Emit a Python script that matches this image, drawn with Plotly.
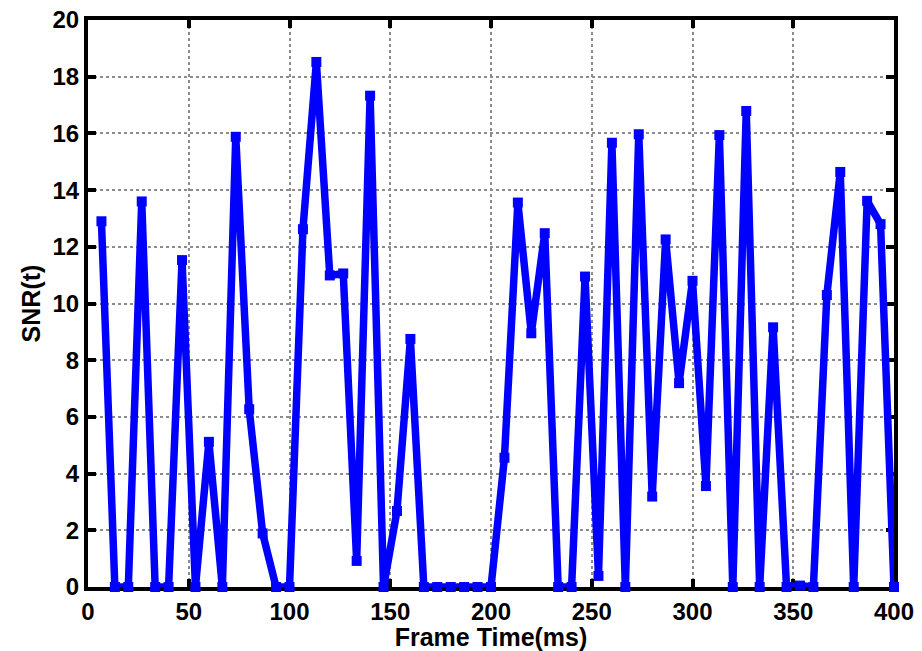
import plotly.graph_objects as go

# Frame times (ms) and the per-frame SNR values
frame_time_ms = [
    6.67, 13.33, 20.0, 26.67, 33.33, 40.0, 46.67, 53.33, 60.0, 66.67,
    73.33, 80.0, 86.67, 93.33, 100.0, 106.67, 113.33, 120.0, 126.67, 133.33,
    140.0, 146.67, 153.33, 160.0, 166.67, 173.33, 180.0, 186.67, 193.33, 200.0,
    206.67, 213.33, 220.0, 226.67, 233.33, 240.0, 246.67, 253.33, 260.0, 266.67,
    273.33, 280.0, 286.67, 293.33, 300.0, 306.67, 313.33, 320.0, 326.67, 333.33,
    340.0, 346.67, 353.33, 360.0, 366.67, 373.33, 380.0, 386.67, 393.33, 400.0,
]
snr_values = [
    12.9, 0, 0, 13.6, 0, 0, 11.53, 0, 5.12, 0,
    15.88, 6.27, 1.89, 0, 0, 12.62, 18.52, 10.99, 11.06, 0.92,
    17.33, 0, 2.68, 8.75, 0, 0, 0, 0, 0, 0,
    4.56, 13.56, 8.95, 12.48, 0, 0, 10.95, 0.39, 15.67, 0,
    15.97, 3.19, 12.26, 7.19, 10.8, 3.56, 15.94, 0, 16.79, 0,
    9.16, 0, 0.05, 0, 10.3, 14.64, 0, 13.62, 12.8, 0,
]

x_ticks = [0, 50, 100, 150, 200, 250, 300, 350, 400]
y_ticks = [0, 2, 4, 6, 8, 10, 12, 14, 16, 18, 20]

font_family = "Liberation Sans, Arial, Helvetica, sans-serif"

fig = go.Figure(
    go.Scatter(
        x=frame_time_ms,
        y=snr_values,
        mode="lines+markers",
        line=dict(color="#0000FF", width=7.5),
        marker=dict(color="#0000FF", size=10, symbol="square"),
        cliponaxis=False,
    )
)

axis_common = dict(
    showline=True,
    linecolor="black",
    linewidth=4,
    mirror="ticks",
    ticks="inside",
    ticklen=8,
    tickwidth=4,
    tickcolor="black",
    showgrid=True,
    gridcolor="#8c8c8c",
    gridwidth=1.5,
    griddash="dot",
    zeroline=False,
    automargin=False,
    tickfont=dict(family=font_family, size=24, color="black", weight="bold"),
    layer="below traces",
)

fig.update_xaxes(
    range=[0, 400],
    tickvals=x_ticks,
    ticktext=[str(v) for v in x_ticks],
    ticklabelstandoff=0,
    title=dict(text="Frame Time(ms)", standoff=6,
               font=dict(family=font_family, size=25, color="black", weight="bold")),
    **axis_common,
)
fig.update_yaxes(
    range=[0, 20],
    tickvals=y_ticks,
    ticktext=[str(v) for v in y_ticks],
    title=dict(text="SNR(t)", standoff=6,
               font=dict(family=font_family, size=25, color="black", weight="bold")),
    **axis_common,
)

fig.update_layout(
    width=922,
    height=651,
    margin=dict(l=88, r=28, t=20, b=64),
    paper_bgcolor="white",
    plot_bgcolor="white",
    showlegend=False,
)

fig.write_html("out.html")
